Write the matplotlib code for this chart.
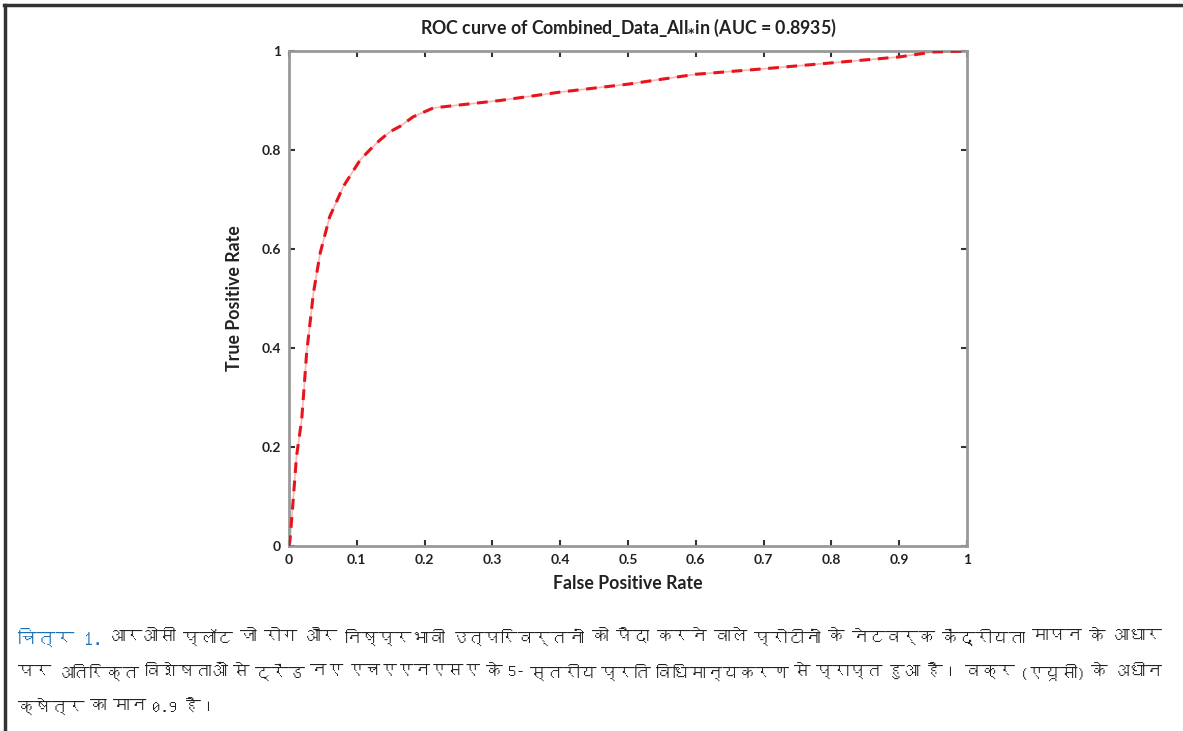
import matplotlib
matplotlib.use("Agg")
import matplotlib.pyplot as plt
from matplotlib import font_manager
from matplotlib.ft2font import FT2Font

plt.rcParams["font.family"] = ["Lato", "DejaVu Sans"]
plt.rcParams["font.weight"] = "bold"

# ROC points
fpr = [0.0, 0.0015, 0.006, 0.011, 0.0187, 0.022, 0.026, 0.036, 0.046, 0.060,
       0.080, 0.105, 0.119, 0.134, 0.149, 0.164, 0.183, 0.213, 0.252, 0.311,
       0.4, 0.5, 0.6, 0.7, 0.8, 0.9, 0.95, 1.0]
tpr = [0.0, 0.012, 0.09, 0.18, 0.255, 0.315, 0.39, 0.511, 0.592, 0.665,
       0.726, 0.780, 0.800, 0.820, 0.837, 0.848, 0.867, 0.885, 0.891, 0.900,
       0.917, 0.933, 0.953, 0.964, 0.976, 0.988, 0.998, 1.0]

x_ticks = [0, 0.1, 0.2, 0.3, 0.4, 0.5, 0.6, 0.7, 0.8, 0.9, 1]
x_labels = ["0", "0.1", "0.2", "0.3", "0.4", "0.5", "0.6", "0.7", "0.8", "0.9", "1"]
y_ticks = [0, 0.2, 0.4, 0.6, 0.8, 1]
y_labels = ["0", "0.2", "0.4", "0.6", "0.8", "1"]

title = "ROC curve of Combined_Data_All$_{*}$in (AUC = 0.8935)"
caption_head = "चित्र 1."
caption_lines = [
    "आरओसी प्लॉट जो रोग और निष्प्रभावी उत्परिवर्तनों को पैदा करने वाले प्रोटीनों के नेटवर्क केंद्रीयता मापन के आधार",
    "पर अतिरिक्त विशेषताओं से ट्रेंड नए एचएएनएसए के 5- स्तरीय प्रति विधिमान्यकरण से प्राप्त हुआ है। वक्र (एयूसी) के अधीन",
    "क्षेत्र का मान 0.9 है।",
]


def find_font(ch):
    for f in font_manager.fontManager.ttflist:
        try:
            if ord(ch) in FT2Font(f.fname).get_charmap():
                return f.name
        except Exception:
            pass
    return None


deva = find_font("क")
deva_family = [deva, "DejaVu Serif"] if deva else ["DejaVu Serif"]

W, H = 1183, 731
fig = plt.figure(figsize=(W / 100, H / 100), dpi=100)
ax = fig.add_axes([289 / W, 1 - 546 / H, (967 - 289) / W, (546 - 51) / H])

ax.plot(fpr, tpr, color="#f5b8b8", lw=1.2, zorder=2)
ax.plot(fpr, tpr, color="#e8141c", lw=2.2, dashes=(3.5, 2.5), zorder=3)

ax.set_xlim(0, 1)
ax.set_ylim(0, 1)
ax.set_xticks(x_ticks, x_labels)
ax.set_yticks(y_ticks, y_labels)
ax.tick_params(direction="in", length=4, width=1.5, color="#333333",
               top=True, right=True, labelsize=10, pad=6)
for lab in ax.get_xticklabels() + ax.get_yticklabels():
    lab.set_fontweight("bold")
    lab.set_color("#222222")
for s in ax.spines.values():
    s.set_color("#999999")
    s.set_linewidth(2)

ax.set_title(title, fontsize=12.8, fontweight="bold", color="#222222", pad=12)
ax.set_xlabel("False Positive Rate", fontsize=12.8, fontweight="bold", color="#222222", labelpad=6)
ax.set_ylabel("True Positive Rate", fontsize=12.8, fontweight="bold", color="#222222", labelpad=13)

# frame around the figure
fig.add_artist(plt.Line2D([4 / W, 1], [1 - 5 / H, 1 - 5 / H], color="#333333", lw=2.5))
fig.add_artist(plt.Line2D([5 / W, 5 / W], [0, 1 - 5 / H], color="#333333", lw=2.5))

# caption, first two lines justified
renderer = fig.canvas.get_renderer()
left, right = 18, 1163
line_y = [637, 672, 707]


def make_line(i, fs):
    y = 1 - line_y[i] / H
    items = []
    if i == 0:
        items.append(fig.text(0, y, caption_head, fontsize=fs + 1.5, family=deva_family,
                              fontweight="bold", color="#1f6fb5", va="center"))
    for w in caption_lines[i].split(" "):
        items.append(fig.text(0, y, w, fontsize=fs, family=deva_family,
                              fontweight="normal", color="#222222", va="center"))
    widths = [t.get_window_extent(renderer).width for t in items]
    return items, widths


# find a font size that leaves room between words on the justified lines
fs = 15.0
while fs > 8:
    ok = True
    for i in range(2):
        items, widths = make_line(i, fs)
        for t in items:
            t.remove()
        if (right - left - sum(widths)) / (len(items) - 1) < 5:
            ok = False
    if ok:
        break
    fs -= 0.25

for i in range(3):
    items, widths = make_line(i, fs)
    gap = (right - left - sum(widths)) / (len(items) - 1) if i < 2 else 6
    x = left
    for t, wd in zip(items, widths):
        t.set_x(x / W)
        x += wd + gap

fig.savefig("out.png", dpi=100)
